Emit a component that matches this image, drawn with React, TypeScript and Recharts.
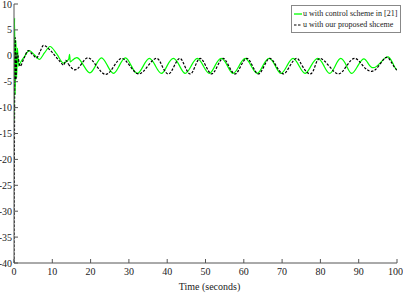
import React from "react";
import { LineChart, Line, XAxis, YAxis, Legend, Label } from "recharts";

// Time (s) and control input u for the scheme in [21] (green)
const greenT = [0, 0.15, 0.3, 0.5, 0.7, 0.9, 1.2, 1.7, 2.6, 4.0, 5.3, 6.6, 8.0, 9.4, 11.2, 12.9, 13.8, 14.3, 14.5, 14.7, 15.2, 16.6, 18.2, 19.8, 21.3, 22.85, 24.4, 26.0, 27.5, 29.1, 30.6, 32.2, 33.8, 35.35, 36.9, 38.5, 40.0, 41.6, 43.2, 44.7, 46.3, 47.85, 49.4, 51.0, 52.5, 54.1, 55.7, 57.2, 58.8, 60.35, 61.9, 63.5, 65.0, 66.6, 68.2, 69.7, 71.3, 72.85, 74.4, 76.0, 77.6, 79.3, 80.9, 82.4, 83.9, 85.3, 86.8, 88.2, 89.8, 91.3, 92.5, 93.8, 95.7, 97.7, 99.2, 100];
const greenU = [-12.5, 7.3, -7.5, 3.0, -4.2, 1.5, -2.0, -1.3, -0.3, 1.0, 0.2, -0.7, 0.6, 1.8, 0.3, -1.4, -1.0, -0.6, 0.3, -1.2, -0.9, -0.4, -1.9, -3.3, -1.9, -0.4, -1.9, -3.4, -1.9, -0.4, -1.9, -3.4, -1.9, -0.5, -1.9, -3.4, -1.9, -0.5, -1.9, -3.4, -1.9, -0.5, -1.9, -3.4, -1.9, -0.5, -1.9, -3.4, -1.9, -0.5, -1.9, -3.4, -1.9, -0.5, -1.9, -3.4, -1.9, -0.5, -1.9, -3.4, -1.9, -0.5, -1.9, -3.4, -1.9, -0.5, -1.9, -3.4, -1.9, -0.6, -1.5, -2.3, -1.3, -0.2, -1.9, -2.7];
const greenSplit = 20; // index where the steady oscillation begins

// Time (s) and control input u for the proposed scheme (black dashed)
const blackT = [0, 0.3, 0.5, 0.8, 1.6, 2.6, 3.7, 4.8, 5.9, 6.8, 7.7, 9.8, 12.0, 13.0, 13.5, 14.2, 15.9, 17.6, 19.4, 21.6, 23.9, 26.0, 28.1, 30.3, 32.6, 34.9, 37.2, 38.7, 40.3, 41.8, 43.3, 44.6, 46.0, 47.3, 48.6, 50.1, 51.6, 53.1, 54.6, 56.1, 57.7, 59.2, 60.8, 62.3, 63.8, 65.3, 66.8, 68.5, 70.3, 72.0, 73.8, 75.3, 77.3, 78.6, 79.9, 82.3, 84.7, 86.8, 89.0, 91.2, 93.4, 95.4, 97.3, 98.8, 100];
const blackU = [-40, 3.5, -4.6, 0.5, -2.0, -0.5, 1.0, 0.3, -0.4, 0.8, 2.0, 0.8, -1.1, -1.8, -0.9, -1.6, -2.7, -1.6, -0.4, -2.0, -3.6, -2.1, -0.5, -2.0, -3.5, -2.0, -0.5, -2.0, -3.5, -2.0, -0.5, -2.0, -3.5, -2.0, -0.5, -2.0, -3.5, -2.0, -0.5, -2.0, -3.5, -2.0, -0.5, -2.0, -3.5, -2.0, -0.5, -2.0, -3.5, -2.0, -0.5, -2.0, -3.5, -2.0, -0.5, -2.0, -3.5, -2.0, -0.5, -2.0, -3.0, -1.8, -0.3, -1.6, -2.8];
const blackSplit = 15;

const xTicks = [0, 10, 20, 30, 40, 50, 60, 70, 80, 90, 100];
const yTicks = [10, 5, 0, -5, -10, -15, -20, -25, -30, -35, -40];
const legendLabels = ["u with control scheme in [21]", "u with our proposed shceme"];

const greenData = greenT.map((t, i) => ({ t, u: greenU[i] }));
const blackData = blackT.map((t, i) => ({ t, u: blackU[i] }));
const greenA = greenData.slice(0, greenSplit + 1);
const greenB = greenData.slice(greenSplit);
const blackA = blackData.slice(0, blackSplit + 1);
const blackB = blackData.slice(blackSplit);

const FONT = "'Liberation Serif', 'DejaVu Serif', serif";
const AXIS = "#555";
const GREEN = "#00ff00";

const LegendBox = () => (
  <div
    style={{
      border: "1px solid #888",
      background: "#fff",
      padding: "2px 3px 2px 2px",
      fontFamily: FONT,
      fontSize: 8,
      lineHeight: "11px",
      color: "#222",
      whiteSpace: "nowrap",
    }}
  >
    <div style={{ display: "flex", alignItems: "center" }}>
      <svg width={8} height={4} style={{ marginRight: 1 }}>
        <line x1={0} y1={2} x2={8} y2={2} stroke={GREEN} strokeWidth={1.3} />
      </svg>
      <span>{legendLabels[0]}</span>
    </div>
    <div style={{ display: "flex", alignItems: "center" }}>
      <svg width={8} height={4} style={{ marginRight: 1 }}>
        <line x1={0} y1={2} x2={8} y2={2} stroke="#000" strokeWidth={1.2} strokeDasharray="2.5 1.5" />
      </svg>
      <span>{legendLabels[1]}</span>
    </div>
  </div>
);

const lineCommon = {
  xAxisId: "b",
  yAxisId: "l",
  dataKey: "u",
  dot: false,
  isAnimationActive: false,
  legendType: "none" as const,
  strokeWidth: 1.2,
};

export default function App() {
  return (
    <div style={{ position: "absolute", left: 0, top: 0 }}>
      <style>{"body{margin:0;background:#fff}"}</style>
      <LineChart width={403} height={294} margin={{ top: 4, right: 6, bottom: 0, left: 0 }}>
        <XAxis
          xAxisId="b"
          dataKey="t"
          type="number"
          domain={[0, 100]}
          ticks={xTicks}
          allowDataOverflow
          height={31}
          stroke={AXIS}
          tickSize={-4}
          tickMargin={9}
          tick={{ fill: "#222", fontSize: 10, fontFamily: FONT }}
        >
          <Label value="Time (seconds)" position="insideBottom" offset={4} dx={4} style={{ fill: "#222", fontSize: 10, fontFamily: FONT }} />
        </XAxis>
        <XAxis
          xAxisId="t"
          orientation="top"
          dataKey="t"
          type="number"
          domain={[0, 100]}
          ticks={xTicks}
          height={0}
          stroke={AXIS}
          tickSize={-4}
          tick={false}
        />
        <YAxis
          yAxisId="l"
          type="number"
          domain={[-40, 10]}
          ticks={yTicks}
          allowDataOverflow
          width={14}
          stroke={AXIS}
          tickSize={-4}
          tickMargin={6}
          interval={0}
          tick={{ fill: "#222", fontSize: 10, fontFamily: FONT }}
        />
        <YAxis
          yAxisId="r"
          orientation="right"
          type="number"
          domain={[-40, 10]}
          ticks={yTicks}
          width={0}
          stroke={AXIS}
          tickSize={-4}
          tick={false}
        />
        <Legend
          layout="horizontal"
          verticalAlign="middle"
          align="center"
          content={<LegendBox />}
          wrapperStyle={{ position: "absolute", top: 5, left: 291, width: "auto" }}
        />
        <Line {...lineCommon} data={greenA} type="monotone" stroke={GREEN} />
        <Line {...lineCommon} data={greenB} type="natural" stroke={GREEN} />
        <Line {...lineCommon} data={blackA} type="monotone" stroke="#000" strokeDasharray="2.5 1.5" />
        <Line {...lineCommon} data={blackB} type="natural" stroke="#000" strokeDasharray="2.5 1.5" />
      </LineChart>
    </div>
  );
}
